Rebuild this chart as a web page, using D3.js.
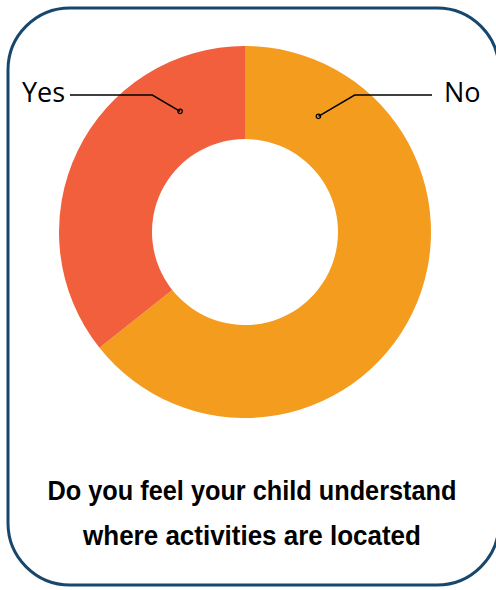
<!DOCTYPE html>
<html lang="en">
    <head>
        <meta charset="utf-8">
        <title>Donut</title>
        <script type="text/javascript" src="https://cdn.jsdelivr.net/npm/d3@7/dist/d3.min.js"></script>
        <style>
        body { margin: 0; background: #fff; }
        .lbl { font-family: "Open Sans", "Noto Sans", sans-serif; font-size: 27px; fill: #000; }
        .title { font-family: "Liberation Sans", Arial, sans-serif; font-weight: bold; font-size: 28px; fill: #000; }
        </style>
    </head>
    <body>
        <script type="text/javascript">
        // data
        var categories = ["No", "Yes"];
        var values = [64.3, 35.7];
        var colors = ["#f39c1e", "#f15f3d"];
        var titleLines = ["Do you feel your child understand", "where activities are located"];

        // leader layout: where in each slice the dot sits (fraction of the slice)
        var labelFrac = [0.14, 0.78];
        var titleWidths = [409, 338];

        var w = 496, h = 590;
        var cx = 245, cy = 232;
        var outerR = 186, innerR = 93;

        var svg = d3.select("body").append("svg")
            .attr("width", w).attr("height", h);

        svg.append("rect")
            .attr("x", 8).attr("y", 8)
            .attr("width", 491).attr("height", 577)
            .attr("rx", 62).attr("ry", 62)
            .attr("fill", "#fff")
            .attr("stroke", "#17476d")
            .attr("stroke-width", 3);

        var pie = d3.pie().sort(null).value(function(d) { return d; });
        var arcs = pie(values);
        var arc = d3.arc().innerRadius(innerR).outerRadius(outerR);

        var g = svg.append("g").attr("transform", "translate(" + cx + "," + cy + ")");
        g.selectAll("path.slice")
            .data(arcs)
            .enter()
            .append("path")
            .attr("class", "slice")
            .attr("d", arc)
            .attr("fill", function(d, i) { return colors[i]; });

        // leader lines
        var dotR = 137;
        var lineY = 95 - cy;
        arcs.forEach(function(d, i) {
            var a = d.startAngle + (d.endAngle - d.startAngle) * labelFrac[i];
            var px = dotR * Math.sin(a), py = -dotR * Math.cos(a);
            var right = px > 0;
            var bendX = px + (right ? 1 : -1) * Math.abs(py - lineY) * 1.7;
            var endX = right ? 432 - cx : 70 - cx;
            g.append("polyline")
                .attr("points", [[px, py], [bendX, lineY], [endX, lineY]].map(function(p) { return p.join(","); }).join(" "))
                .attr("fill", "none")
                .attr("stroke", "#000")
                .attr("stroke-width", 1.5);
            g.append("circle")
                .attr("cx", px).attr("cy", py).attr("r", 2.2)
                .attr("fill", "none")
                .attr("stroke", "#000")
                .attr("stroke-width", 1.2);
            g.append("text")
                .attr("class", "lbl")
                .attr("x", right ? endX + 12 : endX - 5)
                .attr("y", lineY + 7)
                .attr("text-anchor", right ? "start" : "end")
                .text(categories[i]);
        });

        // title, squeezed horizontally to look condensed
        svg.selectAll("text.title")
            .data(titleLines)
            .enter()
            .append("text")
            .attr("class", "title")
            .attr("text-anchor", "middle")
            .text(function(d) { return d; })
            .attr("transform", function(d, i) {
                var k = titleWidths[i] / this.getComputedTextLength();
                return "translate(252," + (500 + i * 45) + ") scale(" + k + ",1)";
            });
        </script>
    </body>
</html>
